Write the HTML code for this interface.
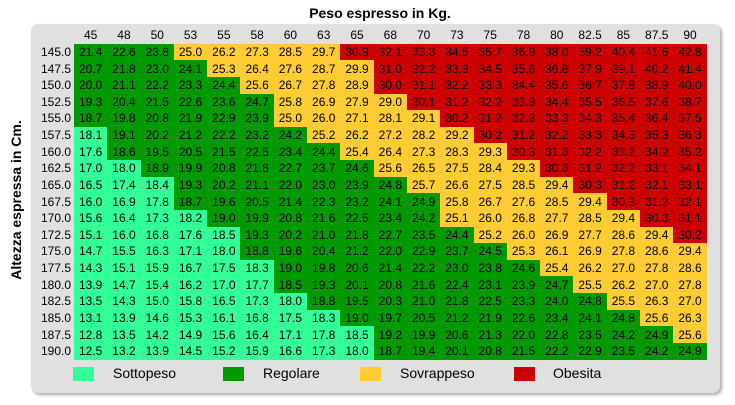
<!DOCTYPE html><html><head><style>
body{margin:0;width:735px;height:405px;background:#fff;font-family:"Liberation Sans",sans-serif;position:relative;overflow:hidden}
.panel{position:absolute;left:31px;top:24px;width:689px;height:369px;background:#e0e0e0;border-radius:7px;box-shadow:2px 2px 3px #aaa}
.title{position:absolute;left:0;width:735px;top:5px;text-align:center;font-weight:bold;font-size:14px;padding-left:25px;box-sizing:border-box}
.ylab{position:absolute;left:16px;top:200px;transform:translate(-50%,-50%) rotate(-90deg);font-weight:bold;font-size:14px;white-space:nowrap}
table{position:absolute;left:30px;top:27px;border-collapse:collapse;table-layout:fixed;font-size:12px}
td,th{padding:0;height:16.63px;line-height:16px;font-weight:normal;text-align:center;width:33.3px;color:#000}
th.rh{width:41px;text-align:right;padding-right:3px;background:transparent}
.b{background:#33ff99}.g{background:#009900}.y{background:#ffcc33}.r{background:#cc0000}
.lg{position:absolute;top:367px;width:21px;height:14px}
.lt{position:absolute;top:365px;font-size:14px}
</style></head><body>
<div class="panel"></div>
<div class="title">Peso espresso in Kg.</div>
<div class="ylab">Altezza espressa in Cm.</div>
<table>
<tr style="height:16px"><th class="rh"></th><th>45</th><th>48</th><th>50</th><th>53</th><th>55</th><th>58</th><th>60</th><th>63</th><th>65</th><th>68</th><th>70</th><th>73</th><th>75</th><th>78</th><th>80</th><th>82.5</th><th>85</th><th>87.5</th><th>90</th></tr>
<tr><th class="rh">145.0</th><td class=g>21.4</td><td class=g>22.6</td><td class=g>23.8</td><td class=y>25.0</td><td class=y>26.2</td><td class=y>27.3</td><td class=y>28.5</td><td class=y>29.7</td><td class=r>30.9</td><td class=r>32.1</td><td class=r>33.3</td><td class=r>34.5</td><td class=r>35.7</td><td class=r>36.9</td><td class=r>38.0</td><td class=r>39.2</td><td class=r>40.4</td><td class=r>41.6</td><td class=r>42.8</td></tr>
<tr><th class="rh">147.5</th><td class=g>20.7</td><td class=g>21.8</td><td class=g>23.0</td><td class=g>24.1</td><td class=y>25.3</td><td class=y>26.4</td><td class=y>27.6</td><td class=y>28.7</td><td class=y>29.9</td><td class=r>31.0</td><td class=r>32.2</td><td class=r>33.3</td><td class=r>34.5</td><td class=r>35.6</td><td class=r>36.8</td><td class=r>37.9</td><td class=r>39.1</td><td class=r>40.2</td><td class=r>41.4</td></tr>
<tr><th class="rh">150.0</th><td class=g>20.0</td><td class=g>21.1</td><td class=g>22.2</td><td class=g>23.3</td><td class=g>24.4</td><td class=y>25.6</td><td class=y>26.7</td><td class=y>27.8</td><td class=y>28.9</td><td class=r>30.0</td><td class=r>31.1</td><td class=r>32.2</td><td class=r>33.3</td><td class=r>34.4</td><td class=r>35.6</td><td class=r>36.7</td><td class=r>37.8</td><td class=r>38.9</td><td class=r>40.0</td></tr>
<tr><th class="rh">152.5</th><td class=g>19.3</td><td class=g>20.4</td><td class=g>21.5</td><td class=g>22.6</td><td class=g>23.6</td><td class=g>24.7</td><td class=y>25.8</td><td class=y>26.9</td><td class=y>27.9</td><td class=y>29.0</td><td class=r>30.1</td><td class=r>31.2</td><td class=r>32.2</td><td class=r>33.3</td><td class=r>34.4</td><td class=r>35.5</td><td class=r>36.5</td><td class=r>37.6</td><td class=r>38.7</td></tr>
<tr><th class="rh">155.0</th><td class=g>18.7</td><td class=g>19.8</td><td class=g>20.8</td><td class=g>21.9</td><td class=g>22.9</td><td class=g>23.9</td><td class=y>25.0</td><td class=y>26.0</td><td class=y>27.1</td><td class=y>28.1</td><td class=y>29.1</td><td class=r>30.2</td><td class=r>31.2</td><td class=r>32.3</td><td class=r>33.3</td><td class=r>34.3</td><td class=r>35.4</td><td class=r>36.4</td><td class=r>37.5</td></tr>
<tr><th class="rh">157.5</th><td class=b>18.1</td><td class=g>19.1</td><td class=g>20.2</td><td class=g>21.2</td><td class=g>22.2</td><td class=g>23.2</td><td class=g>24.2</td><td class=y>25.2</td><td class=y>26.2</td><td class=y>27.2</td><td class=y>28.2</td><td class=y>29.2</td><td class=r>30.2</td><td class=r>31.2</td><td class=r>32.2</td><td class=r>33.3</td><td class=r>34.3</td><td class=r>35.3</td><td class=r>36.3</td></tr>
<tr><th class="rh">160.0</th><td class=b>17.6</td><td class=g>18.6</td><td class=g>19.5</td><td class=g>20.5</td><td class=g>21.5</td><td class=g>22.5</td><td class=g>23.4</td><td class=g>24.4</td><td class=y>25.4</td><td class=y>26.4</td><td class=y>27.3</td><td class=y>28.3</td><td class=y>29.3</td><td class=r>30.3</td><td class=r>31.3</td><td class=r>32.2</td><td class=r>33.2</td><td class=r>34.2</td><td class=r>35.2</td></tr>
<tr><th class="rh">162.5</th><td class=b>17.0</td><td class=b>18.0</td><td class=g>18.9</td><td class=g>19.9</td><td class=g>20.8</td><td class=g>21.8</td><td class=g>22.7</td><td class=g>23.7</td><td class=g>24.6</td><td class=y>25.6</td><td class=y>26.5</td><td class=y>27.5</td><td class=y>28.4</td><td class=y>29.3</td><td class=r>30.3</td><td class=r>31.2</td><td class=r>32.2</td><td class=r>33.1</td><td class=r>34.1</td></tr>
<tr><th class="rh">165.0</th><td class=b>16.5</td><td class=b>17.4</td><td class=b>18.4</td><td class=g>19.3</td><td class=g>20.2</td><td class=g>21.1</td><td class=g>22.0</td><td class=g>23.0</td><td class=g>23.9</td><td class=g>24.8</td><td class=y>25.7</td><td class=y>26.6</td><td class=y>27.5</td><td class=y>28.5</td><td class=y>29.4</td><td class=r>30.3</td><td class=r>31.2</td><td class=r>32.1</td><td class=r>33.1</td></tr>
<tr><th class="rh">167.5</th><td class=b>16.0</td><td class=b>16.9</td><td class=b>17.8</td><td class=g>18.7</td><td class=g>19.6</td><td class=g>20.5</td><td class=g>21.4</td><td class=g>22.3</td><td class=g>23.2</td><td class=g>24.1</td><td class=g>24.9</td><td class=y>25.8</td><td class=y>26.7</td><td class=y>27.6</td><td class=y>28.5</td><td class=y>29.4</td><td class=r>30.3</td><td class=r>31.2</td><td class=r>32.1</td></tr>
<tr><th class="rh">170.0</th><td class=b>15.6</td><td class=b>16.4</td><td class=b>17.3</td><td class=b>18.2</td><td class=g>19.0</td><td class=g>19.9</td><td class=g>20.8</td><td class=g>21.6</td><td class=g>22.5</td><td class=g>23.4</td><td class=g>24.2</td><td class=y>25.1</td><td class=y>26.0</td><td class=y>26.8</td><td class=y>27.7</td><td class=y>28.5</td><td class=y>29.4</td><td class=r>30.3</td><td class=r>31.1</td></tr>
<tr><th class="rh">172.5</th><td class=b>15.1</td><td class=b>16.0</td><td class=b>16.8</td><td class=b>17.6</td><td class=b>18.5</td><td class=g>19.3</td><td class=g>20.2</td><td class=g>21.0</td><td class=g>21.8</td><td class=g>22.7</td><td class=g>23.5</td><td class=g>24.4</td><td class=y>25.2</td><td class=y>26.0</td><td class=y>26.9</td><td class=y>27.7</td><td class=y>28.6</td><td class=y>29.4</td><td class=r>30.2</td></tr>
<tr><th class="rh">175.0</th><td class=b>14.7</td><td class=b>15.5</td><td class=b>16.3</td><td class=b>17.1</td><td class=b>18.0</td><td class=g>18.8</td><td class=g>19.6</td><td class=g>20.4</td><td class=g>21.2</td><td class=g>22.0</td><td class=g>22.9</td><td class=g>23.7</td><td class=g>24.5</td><td class=y>25.3</td><td class=y>26.1</td><td class=y>26.9</td><td class=y>27.8</td><td class=y>28.6</td><td class=y>29.4</td></tr>
<tr><th class="rh">177.5</th><td class=b>14.3</td><td class=b>15.1</td><td class=b>15.9</td><td class=b>16.7</td><td class=b>17.5</td><td class=b>18.3</td><td class=g>19.0</td><td class=g>19.8</td><td class=g>20.6</td><td class=g>21.4</td><td class=g>22.2</td><td class=g>23.0</td><td class=g>23.8</td><td class=g>24.6</td><td class=y>25.4</td><td class=y>26.2</td><td class=y>27.0</td><td class=y>27.8</td><td class=y>28.6</td></tr>
<tr><th class="rh">180.0</th><td class=b>13.9</td><td class=b>14.7</td><td class=b>15.4</td><td class=b>16.2</td><td class=b>17.0</td><td class=b>17.7</td><td class=g>18.5</td><td class=g>19.3</td><td class=g>20.1</td><td class=g>20.8</td><td class=g>21.6</td><td class=g>22.4</td><td class=g>23.1</td><td class=g>23.9</td><td class=g>24.7</td><td class=y>25.5</td><td class=y>26.2</td><td class=y>27.0</td><td class=y>27.8</td></tr>
<tr><th class="rh">182.5</th><td class=b>13.5</td><td class=b>14.3</td><td class=b>15.0</td><td class=b>15.8</td><td class=b>16.5</td><td class=b>17.3</td><td class=b>18.0</td><td class=g>18.8</td><td class=g>19.5</td><td class=g>20.3</td><td class=g>21.0</td><td class=g>21.8</td><td class=g>22.5</td><td class=g>23.3</td><td class=g>24.0</td><td class=g>24.8</td><td class=y>25.5</td><td class=y>26.3</td><td class=y>27.0</td></tr>
<tr><th class="rh">185.0</th><td class=b>13.1</td><td class=b>13.9</td><td class=b>14.6</td><td class=b>15.3</td><td class=b>16.1</td><td class=b>16.8</td><td class=b>17.5</td><td class=b>18.3</td><td class=g>19.0</td><td class=g>19.7</td><td class=g>20.5</td><td class=g>21.2</td><td class=g>21.9</td><td class=g>22.6</td><td class=g>23.4</td><td class=g>24.1</td><td class=g>24.8</td><td class=y>25.6</td><td class=y>26.3</td></tr>
<tr><th class="rh">187.5</th><td class=b>12.8</td><td class=b>13.5</td><td class=b>14.2</td><td class=b>14.9</td><td class=b>15.6</td><td class=b>16.4</td><td class=b>17.1</td><td class=b>17.8</td><td class=b>18.5</td><td class=g>19.2</td><td class=g>19.9</td><td class=g>20.6</td><td class=g>21.3</td><td class=g>22.0</td><td class=g>22.8</td><td class=g>23.5</td><td class=g>24.2</td><td class=g>24.9</td><td class=y>25.6</td></tr>
<tr><th class="rh">190.0</th><td class=b>12.5</td><td class=b>13.2</td><td class=b>13.9</td><td class=b>14.5</td><td class=b>15.2</td><td class=b>15.9</td><td class=b>16.6</td><td class=b>17.3</td><td class=b>18.0</td><td class=g>18.7</td><td class=g>19.4</td><td class=g>20.1</td><td class=g>20.8</td><td class=g>21.5</td><td class=g>22.2</td><td class=g>22.9</td><td class=g>23.5</td><td class=g>24.2</td><td class=g>24.9</td></tr>
</table>
<div class="lg b" style="left:73px"></div><div class="lt" style="left:113px">Sottopeso</div>
<div class="lg g" style="left:223px"></div><div class="lt" style="left:263px">Regolare</div>
<div class="lg y" style="left:360px"></div><div class="lt" style="left:400px">Sovrappeso</div>
<div class="lg r" style="left:514px"></div><div class="lt" style="left:553px">Obesita</div>
</body></html>
